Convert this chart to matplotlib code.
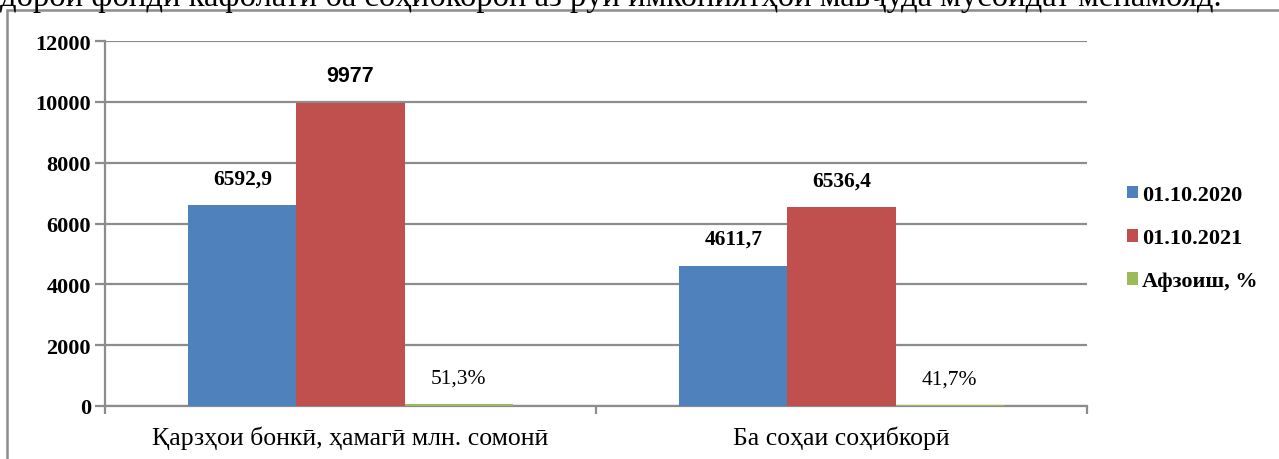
import matplotlib
matplotlib.use("Agg")
import numpy as np
from matplotlib import pyplot as plt
from matplotlib.patches import Rectangle

categories = ["Қарзҳои бонкӣ, ҳамагӣ млн. сомонӣ", "Ба соҳаи соҳибкорӣ"]
series_names = ["01.10.2020", "01.10.2021", "Афзоиш, %"]
values_2020 = [6592.9, 4611.7]
values_2021 = [9977, 6536.4]
growth_pct = [51.3, 41.7]
yticks = [0, 2000, 4000, 6000, 8000, 10000, 12000]
top_line = "дорои фонди кафолатӣ ба соҳибкорон аз рӯи имкониятҳои мавҷуда мусоидат менамояд."

colors = ["#4F81BD", "#C0504D", "#9BBB59"]
SERIF = "Liberation Serif"

fig = plt.figure(figsize=(12.79, 4.6), dpi=100)
W, H = 1279, 460

# cut-off line of document text at the very top (only its lower part shows)
fig.text(0.0, 1 - 6 / H, top_line, fontsize=23.5, family=SERIF, va="baseline", ha="left")

# chart frame
fig.patches.append(Rectangle((7 / W, -0.1), 1.1, 1.1 - 11 / H, transform=fig.transFigure,
                             fill=False, edgecolor="#8c8c8c", lw=1.8))

ax = fig.add_axes([105 / W, 1 - 407 / H, (1087 - 105) / W, (407 - 42) / H])

x = np.arange(len(categories))
w = 0.22
all_series = [values_2020, values_2021, growth_pct]
for i, (name, vals) in enumerate(zip(series_names, all_series)):
    bars = ax.bar(x + (i - 1) * w, vals, w, color=colors[i], label=name, zorder=3)
    for b, v in zip(bars, vals):
        txt = f"{v:g}".replace(".", ",")
        if i == 2:
            txt += "%"
        fam = "Liberation Sans" if v == 9977 else SERIF
        ax.annotate(txt, (b.get_x() + b.get_width() / 2, b.get_height()),
                    xytext=(0, 12), textcoords="offset points", ha="center", va="bottom",
                    fontsize=15.5, fontweight="bold" if i < 2 else "normal", family=fam)

ax.set_xlim(-0.5, 1.5)
ax.set_ylim(0, 12000)
ax.set_yticks(yticks)
ax.set_yticklabels([str(t) for t in yticks], family=SERIF, fontweight="bold", fontsize=16)
ax.yaxis.grid(True, color="#8c8c8c", lw=1.6, zorder=0)
ax.set_axisbelow(True)
ax.tick_params(axis="y", length=7, color="#8c8c8c", width=1.6, pad=3)

ax.set_xticks([-0.5, 0.5, 1.5])
ax.set_xticks(x, minor=True)
ax.set_xticklabels([])
ax.set_xticklabels(categories, minor=True, family=SERIF, fontsize=18.5)
ax.tick_params(axis="x", which="major", length=6, color="#8c8c8c", width=1.6)
ax.tick_params(axis="x", which="minor", length=0, pad=14)

for s in ["top", "right"]:
    ax.spines[s].set_visible(False)
for s in ["left", "bottom"]:
    ax.spines[s].set_color("#8c8c8c")
    ax.spines[s].set_linewidth(1.6)

leg = ax.legend(loc="center left", bbox_to_anchor=(1.02, 0.46), frameon=False,
                prop={"family": SERIF, "weight": "bold", "size": 16},
                handlelength=0.5, handleheight=0.5, handletextpad=0.2, labelspacing=1.05)

fig.savefig("out.png", dpi=100)
